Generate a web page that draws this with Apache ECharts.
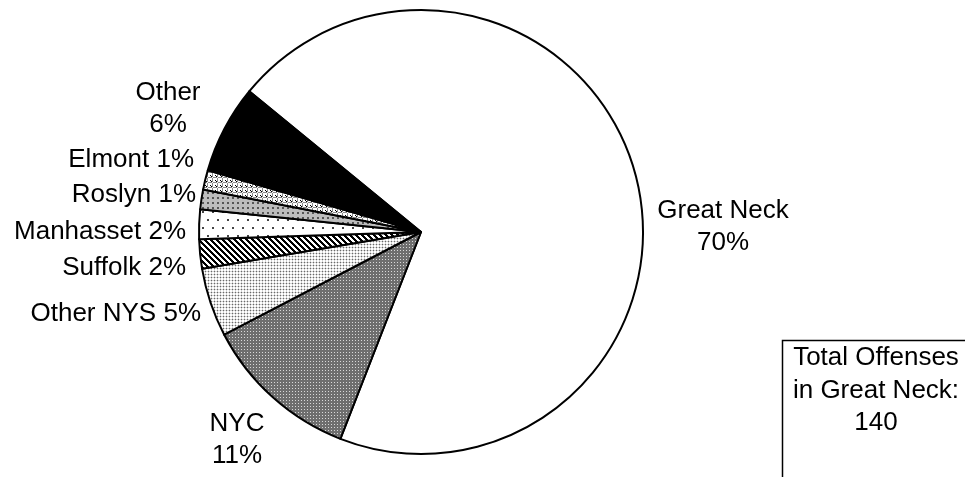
<!DOCTYPE html>
<html>
<head>
<meta charset="utf-8">
<script src="https://cdn.jsdelivr.net/npm/echarts@6/dist/echarts.min.js"></script>
<style>
  html, body { margin: 0; padding: 0; background: #fff; }
  #main { width: 965px; height: 477px; }
</style>
</head>
<body>
<div id="main"></div>
<script>
// data (140 offenses total)
const places = ['Great Neck', 'NYC', 'Other NYS', 'Suffolk', 'Manhasset', 'Roslyn', 'Elmont', 'Other'];
const counts = [98, 16, 7, 3, 3, 2, 2, 9];
const totalText = ['Total Offenses', 'in Great Neck:', '140'];

// where each label sits, and how it is aligned
const labelPos = [
    { x: 723, y: 227, align: 'center' },
    { x: 237, y: 440, align: 'center' },
    { x: 201, y: 314, align: 'right' },
    { x: 186, y: 268, align: 'right' },
    { x: 186, y: 232, align: 'right' },
    { x: 196, y: 195, align: 'right' },
    { x: 194, y: 160, align: 'right' },
    { x: 168, y: 109, align: 'center' }
];
const twoLine = ['Great Neck', 'NYC', 'Other'];

function makeCanvas(w, h, draw) {
    let c = document.createElement('canvas');
    c.width = w;
    c.height = h;
    let ctx = c.getContext('2d');
    draw(ctx);
    return { image: c, repeat: 'repeat' };
}

// fill patterns, one per slice
const fills = [
    '#ffffff',
    makeCanvas(3, 3, (ctx) => {
        ctx.fillStyle = '#6e6e6e';
        ctx.fillRect(0, 0, 3, 3);
        ctx.fillStyle = '#d8d8d8';
        ctx.fillRect(1, 1, 1, 1);
    }),
    makeCanvas(3, 3, (ctx) => {
        ctx.fillStyle = '#ffffff';
        ctx.fillRect(0, 0, 3, 3);
        ctx.fillStyle = '#d4d4d4';
        ctx.fillRect(0, 1, 3, 1);
        ctx.fillRect(1, 0, 1, 3);
        ctx.fillStyle = '#6a6a6a';
        ctx.fillRect(1, 1, 1, 1);
    }),
    makeCanvas(6, 6, (ctx) => {
        ctx.fillStyle = '#ffffff';
        ctx.fillRect(0, 0, 6, 6);
        ctx.fillStyle = '#000000';
        for (let i = 0; i < 6; i++) {
            ctx.fillRect(i, i, 1, 1);
            ctx.fillRect((i + 1) % 6, i, 1, 1);
            ctx.fillRect((i + 2) % 6, i, 1, 1);
        }
    }),
    makeCanvas(10, 16, (ctx) => {
        ctx.fillStyle = '#ffffff';
        ctx.fillRect(0, 0, 10, 16);
        ctx.fillStyle = '#444444';
        ctx.fillRect(2, 3, 2, 2);
        ctx.fillRect(7, 11, 2, 2);
    }),
    makeCanvas(5, 5, (ctx) => {
        ctx.fillStyle = '#bdbdbd';
        ctx.fillRect(0, 0, 5, 5);
        ctx.fillStyle = '#555555';
        ctx.fillRect(2, 2, 2, 2);
    }),
    makeCanvas(5, 5, (ctx) => {
        ctx.fillStyle = '#ffffff';
        ctx.fillRect(0, 0, 5, 5);
        ctx.fillStyle = '#8a8a8a';
        ctx.fillRect(0, 2, 5, 1);
        ctx.fillRect(2, 0, 1, 5);
        ctx.fillStyle = '#000000';
        ctx.fillRect(0, 0, 1, 1);
        ctx.fillRect(1, 1, 1, 1);
        ctx.fillStyle = '#ffffff';
        ctx.fillRect(2, 2, 1, 1);
    }),
    '#000000'
];

let chart = echarts.init(document.getElementById('main'));
let total = counts.reduce((a, b) => a + b, 0);

let option = {
    backgroundColor: '#ffffff',
    animation: false,
    textStyle: { fontFamily: 'Liberation Sans, Arial, sans-serif' },
    graphic: [{
        type: 'rect',
        shape: { x: 782.5, y: 340.5, width: 200, height: 160 },
        style: { fill: '#ffffff', stroke: '#000000', lineWidth: 1.5 }
    }, {
        type: 'text',
        x: 876,
        y: 342,
        style: {
            text: totalText.join('\n'),
            fill: '#000000',
            font: '26px Liberation Sans, Arial, sans-serif',
            lineHeight: 32.5,
            align: 'center',
            verticalAlign: 'top'
        }
    }],
    series: [{
        type: 'pie',
        center: [421, 232],
        radius: 222,
        startAngle: 140.7,
        clockwise: true,
        avoidLabelOverlap: false,
        silent: true,
        itemStyle: { borderColor: '#000000', borderWidth: 2 },
        label: {
            show: true,
            position: 'outside',
            color: '#000000',
            fontSize: 26,
            lineHeight: 32.5,
            fontFamily: 'Liberation Sans, Arial, sans-serif',
            formatter: (p) => {
                let pct = Math.round(p.value / total * 100) + '%';
                return twoLine.includes(p.name) ? p.name + '\n' + pct : p.name + ' ' + pct;
            }
        },
        labelLine: { show: false },
        labelLayout: (p) => {
            let pos = labelPos[p.dataIndex];
            return {
                x: pos.x,
                y: pos.y,
                align: pos.align,
                verticalAlign: 'middle'
            };
        },
        data: places.map((name, i) => ({
            name: name,
            value: counts[i],
            itemStyle: { color: fills[i] }
        }))
    }]
};

chart.setOption(option);
</script>
</body>
</html>
